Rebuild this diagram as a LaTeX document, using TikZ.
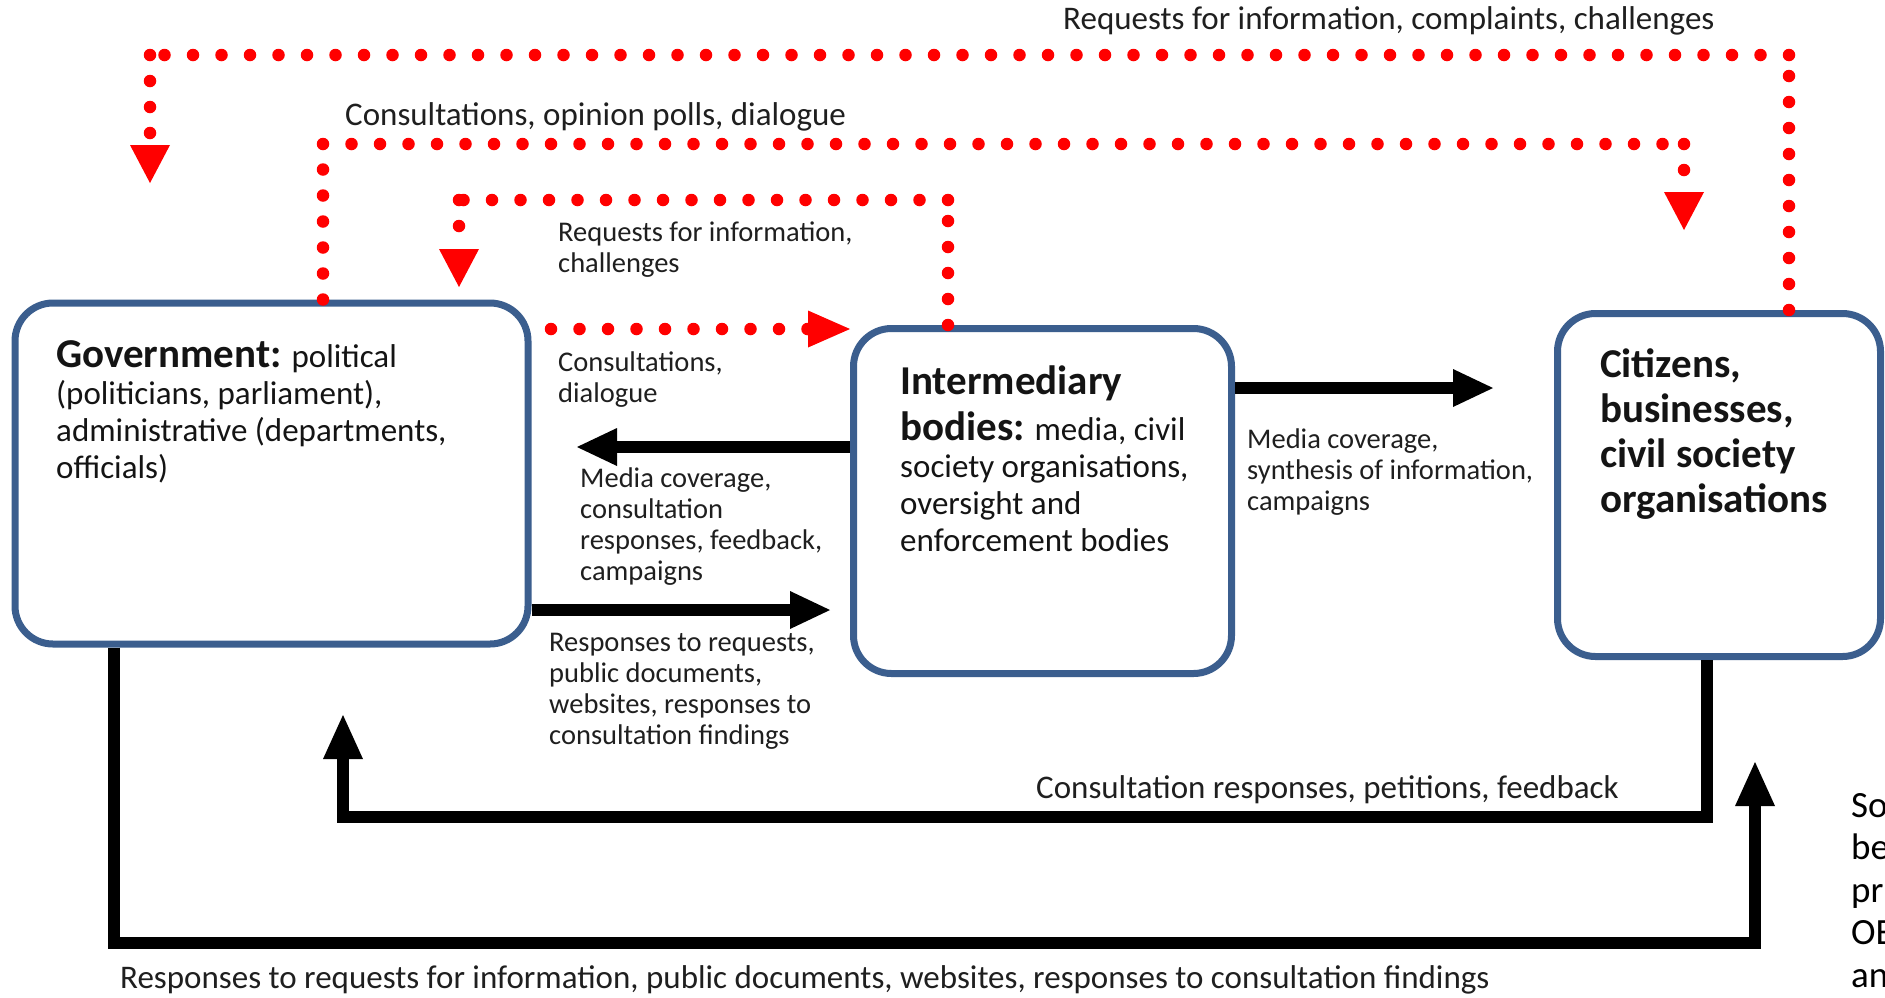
\documentclass[tikz,border=0pt]{standalone}
\usepackage{fontspec}
\setmainfont{Carlito}
\usetikzlibrary{arrows.meta}
\definecolor{boxblue}{HTML}{3B5E8E}
\definecolor{dotred}{HTML}{FF0000}
\tikzset{
  boxnode/.style={draw=boxblue, line width=7pt, rounded corners=38pt, fill=white, inner sep=0pt},
  dotsH/.style={draw=dotred, line width=12.5pt, line cap=round, dash pattern=on 0pt off 28.5pt},
  dotsV/.style={draw=dotred, line width=12.5pt, line cap=round, dash pattern=on 0pt off 26pt},
  redtipV/.style={-{Triangle[width=40pt,length=38pt,line width=0pt,round=false]}},
  redtipH/.style={-{Triangle[width=37pt,length=42pt,line width=0pt,round=false]}},
  blkline/.style={draw=black, line width=12pt},
  blkarrow/.style={blkline, -{Triangle[width=38pt,length=40pt,line width=0pt]}},
  upblk/.style={blkline, -{Triangle[width=40pt,length=44pt,line width=0pt]}},
  lab/.style={inner sep=0pt, align=left, text=black!88, font=\fontsize{28.5}{31}\selectfont},
  biglab/.style={inner sep=0pt, text=black!88, font=\fontsize{33}{36}\selectfont},
  boxtext/.style={inner sep=0pt, align=left, text=black!92, font=\fontsize{33}{37}\selectfont},
  boldtext/.style={inner sep=0pt, align=left, text=black!92, font=\fontsize{41}{45}\selectfont\bfseries},
  srctext/.style={inner sep=0pt, align=left, text=black, font=\fontsize{37}{42.5}\selectfont}
}
\newcommand{\bigb}[1]{{\fontsize{41}{37}\selectfont\bfseries #1}}
\begin{document}
\setlength{\lineskiplimit}{-100pt}
\begin{tikzpicture}[x=1pt,y=-1pt]
\useasboundingbox (0,0) rectangle (1885,997);
\fill[white] (0,0) rectangle (1885,997);

% boxes
\node[boxnode, minimum width=513pt, minimum height=341pt] (gov) at (271.5,473.5) {};
\node[boxnode, minimum width=378pt, minimum height=345pt] (int) at (1042.5,501) {};
\node[boxnode, minimum width=323pt, minimum height=343pt] (cit) at (1719,485) {};

% box texts (anchored at the baseline of their last line)
\node[boxtext, anchor=base west] (govtxt) at (56,478)
  {\bigb{Government:} political\\(politicians, parliament),\\administrative (departments,\\officials)};
\node[boxtext, anchor=base west] (inttxt) at (900,551)
  {\bigb{Intermediary}\\[9pt]\bigb{bodies:} media, civil\\society organisations,\\oversight and\\enforcement bodies};
\node[boldtext, anchor=base west] (cittxt) at (1600,512)
  {Citizens,\\businesses,\\civil society\\organisations};

% coordinates
\coordinate (Atop) at (1789,55);
\coordinate (Atip) at (150,183);
\coordinate (Btop) at (323,144);
\coordinate (Btip) at (1684,230);
\coordinate (Ctop) at (948,200);
\coordinate (Ctip) at (459,287);
\coordinate (Dstart) at (551,329);
\coordinate (Dtip) at (850,329);
\coordinate (Etip) at (577,447);
\coordinate (Ftip) at (830,610);
\coordinate (Gtip) at (1493,388);
\coordinate (Hcorner) at (1707,817);
\coordinate (Htip) at (343,715);
\coordinate (Icorner) at (114,943);
\coordinate (Itip) at (1755,762);

% red dotted connectors
\draw[dotsV] (cit.north -| Atop) -- (Atop);
\draw[dotsH] (Atop) -- (Atop -| Atip);
\draw[dotsV, redtipV] (Atop -| Atip) -- (Atip);

\draw[dotsV] (gov.north -| Btop) -- (Btop);
\draw[dotsH] (Btop) -- (Btop -| Btip);
\draw[dotsV, redtipV] (Btop -| Btip) -- (Btip);

\draw[dotsV] (int.north -| Ctop) -- (Ctop);
\draw[dotsH] (Ctop) -- (Ctop -| Ctip);
\draw[dotsV, redtipV] (Ctop -| Ctip) -- (Ctip);

\draw[dotsH, redtipH] (Dstart) -- (Dtip);

% black connectors
\draw[blkarrow] (int.west |- Etip) -- (Etip);
\draw[blkarrow] (gov.east |- Ftip) -- (Ftip);
\draw[blkarrow] (int.east |- Gtip) -- (Gtip);
\draw[upblk] (cit.south -| Hcorner) -- (Hcorner) -| (Htip);
\draw[upblk] (gov.south -| Icorner) -- (Icorner) -| (Itip);

% labels (multi-line ones anchored at the baseline of their last line)
\node[biglab, anchor=base west] (t1) at (1063,29) {Requests for information, complaints, challenges};
\node[biglab, anchor=base west] (t2) at (345,125) {Consultations, opinion polls, dialogue};
\node[lab, anchor=base west] (l1) at (558,272) {Requests for information,\\challenges};
\node[lab, anchor=base west] (l2) at (558,402) {Consultations,\\dialogue};
\node[lab, anchor=base west] (l3) at (580,580) {Media coverage,\\consultation\\responses, feedback,\\campaigns};
\node[lab, anchor=base west] (l4) at (549,744) {Responses to requests,\\public documents,\\websites, responses to\\consultation findings};
\node[lab, anchor=base west] (l5) at (1247,510) {Media coverage,\\synthesis of information,\\campaigns};
\node[biglab, anchor=base west] (t3) at (1036,798) {Consultation responses, petitions, feedback};
\node[biglab, anchor=base west] (t4) at (120,988) {Responses to requests for information, public documents, websites, responses to consultation findings};

% source fragment (cut by the right edge)
\node[srctext, anchor=base west] (src) at (1851,987) {So\\be\\pr\\OE\\an};
\end{tikzpicture}
\end{document}
